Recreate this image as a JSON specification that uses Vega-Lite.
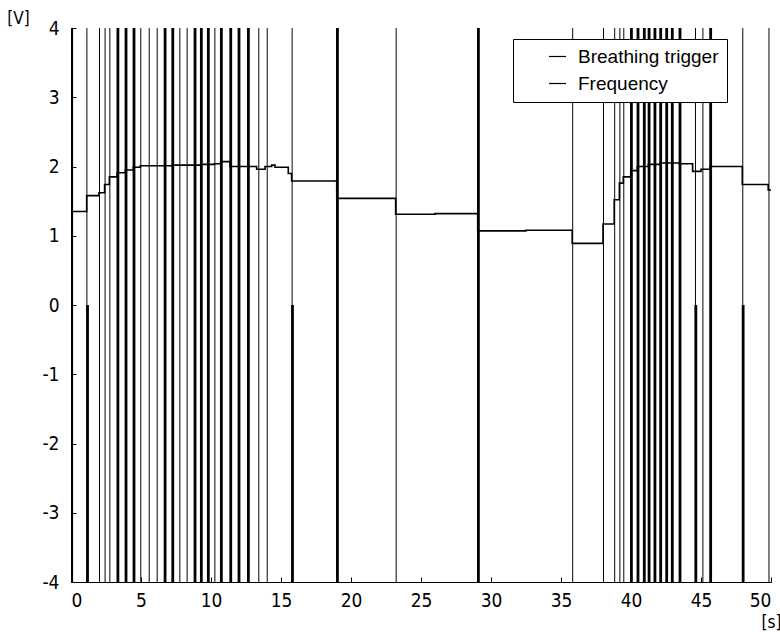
{
  "$schema": "https://vega.github.io/schema/vega-lite/v6.json",
  "width": 700,
  "height": 554,
  "autosize": "none",
  "padding": {"left": 71, "top": 28, "right": 9, "bottom": 50},
  "background": "white",
  "config": {
    "view": {"stroke": null},
    "font": "Liberation Sans Narrow, DejaVu Sans Condensed, Liberation Sans, sans-serif",
    "axis": {
      "grid": false,
      "domainColor": "black",
      "domainWidth": 1,
      "tickColor": "black",
      "tickSize": -5,
      "labelColor": "black",
      "labelFontSize": 19,
      "labelFont": "Liberation Sans Narrow, DejaVu Sans Condensed, sans-serif",
      "titleFont": "Liberation Sans Narrow, DejaVu Sans Condensed, sans-serif",
      "titleFontWeight": "normal",
      "titleFontSize": 17,
      "titleColor": "black"
    }
  },
  "datasets": {
    "triggers": [
      {"t0": 0.0, "t1": 0.15, "lo": -4, "hi": 4},
      {"t0": 1.1, "t1": 1.17, "lo": -4, "hi": 4},
      {"t0": 1.08, "t1": 1.28, "lo": -4, "hi": 0},
      {"t0": 2.0, "t1": 2.07, "lo": -4, "hi": 4},
      {"t0": 2.4, "t1": 2.47, "lo": -4, "hi": 4},
      {"t0": 2.74, "t1": 2.81, "lo": -4, "hi": 4},
      {"t0": 3.25, "t1": 3.45, "lo": -4, "hi": 4},
      {"t0": 3.83, "t1": 4.03, "lo": -4, "hi": 4},
      {"t0": 4.4, "t1": 4.6, "lo": -4, "hi": 4},
      {"t0": 4.95, "t1": 5.02, "lo": -4, "hi": 4},
      {"t0": 5.55, "t1": 5.62, "lo": -4, "hi": 4},
      {"t0": 6.12, "t1": 6.19, "lo": -4, "hi": 4},
      {"t0": 6.62, "t1": 6.82, "lo": -4, "hi": 4},
      {"t0": 7.17, "t1": 7.37, "lo": -4, "hi": 4},
      {"t0": 7.74, "t1": 7.81, "lo": -4, "hi": 4},
      {"t0": 8.26, "t1": 8.33, "lo": -4, "hi": 4},
      {"t0": 8.76, "t1": 8.96, "lo": -4, "hi": 4},
      {"t0": 9.21, "t1": 9.41, "lo": -4, "hi": 4},
      {"t0": 9.71, "t1": 9.91, "lo": -4, "hi": 4},
      {"t0": 10.24, "t1": 10.31, "lo": -4, "hi": 4},
      {"t0": 10.64, "t1": 10.84, "lo": -4, "hi": 4},
      {"t0": 11.31, "t1": 11.51, "lo": -4, "hi": 4},
      {"t0": 11.9, "t1": 12.1, "lo": -4, "hi": 4},
      {"t0": 12.57, "t1": 12.77, "lo": -4, "hi": 4},
      {"t0": 13.38, "t1": 13.45, "lo": -4, "hi": 4},
      {"t0": 13.98, "t1": 14.05, "lo": -4, "hi": 4},
      {"t0": 15.76, "t1": 15.83, "lo": -4, "hi": 4},
      {"t0": 15.72, "t1": 15.92, "lo": -4, "hi": 0},
      {"t0": 18.93, "t1": 19.13, "lo": -4, "hi": 4},
      {"t0": 23.19, "t1": 23.26, "lo": -4, "hi": 4},
      {"t0": 29.0, "t1": 29.2, "lo": -4, "hi": 4},
      {"t0": 35.8, "t1": 35.87, "lo": -4, "hi": 4},
      {"t0": 38.0, "t1": 38.07, "lo": -4, "hi": 4},
      {"t0": 38.8, "t1": 38.87, "lo": -4, "hi": 4},
      {"t0": 39.17, "t1": 39.24, "lo": -4, "hi": 4},
      {"t0": 39.45, "t1": 39.52, "lo": -4, "hi": 4},
      {"t0": 39.93, "t1": 40.13, "lo": -4, "hi": 4},
      {"t0": 40.4, "t1": 40.6, "lo": -4, "hi": 4},
      {"t0": 40.85, "t1": 41.05, "lo": -4, "hi": 4},
      {"t0": 41.19, "t1": 41.39, "lo": -4, "hi": 4},
      {"t0": 41.61, "t1": 41.81, "lo": -4, "hi": 4},
      {"t0": 42.02, "t1": 42.22, "lo": -4, "hi": 4},
      {"t0": 42.45, "t1": 42.65, "lo": -4, "hi": 4},
      {"t0": 42.85, "t1": 43.05, "lo": -4, "hi": 4},
      {"t0": 43.4, "t1": 43.6, "lo": -4, "hi": 4},
      {"t0": 44.57, "t1": 44.64, "lo": -4, "hi": 4},
      {"t0": 44.53, "t1": 44.73, "lo": -4, "hi": 0},
      {"t0": 45.1, "t1": 45.17, "lo": -4, "hi": 4},
      {"t0": 45.59, "t1": 45.79, "lo": -4, "hi": 4},
      {"t0": 47.95, "t1": 48.02, "lo": -4, "hi": 4},
      {"t0": 47.91, "t1": 48.11, "lo": -4, "hi": 0},
      {"t0": 49.82, "t1": 49.89, "lo": -4, "hi": 4}
    ],
    "freq": [
      {"t": 0.0, "f": 1.35},
      {"t": 1.12, "f": 1.58},
      {"t": 2.0, "f": 1.62},
      {"t": 2.4, "f": 1.74},
      {"t": 2.74, "f": 1.85},
      {"t": 3.3, "f": 1.91},
      {"t": 3.88, "f": 1.95},
      {"t": 4.45, "f": 1.99},
      {"t": 4.95, "f": 2.01},
      {"t": 7.22, "f": 2.02},
      {"t": 9.26, "f": 2.03},
      {"t": 10.24, "f": 2.04},
      {"t": 10.69, "f": 2.07},
      {"t": 11.36, "f": 2.0},
      {"t": 13.26, "f": 1.96},
      {"t": 13.86, "f": 2.0},
      {"t": 14.33, "f": 2.02},
      {"t": 14.57, "f": 1.99},
      {"t": 15.52, "f": 1.9},
      {"t": 15.76, "f": 1.79},
      {"t": 18.98, "f": 1.54},
      {"t": 23.19, "f": 1.31},
      {"t": 26.0, "f": 1.32},
      {"t": 29.05, "f": 1.07},
      {"t": 32.5, "f": 1.08},
      {"t": 35.8, "f": 0.89},
      {"t": 38.0, "f": 1.17},
      {"t": 38.8, "f": 1.52},
      {"t": 39.17, "f": 1.76},
      {"t": 39.45, "f": 1.85},
      {"t": 39.98, "f": 1.94},
      {"t": 40.45, "f": 2.0},
      {"t": 41.24, "f": 2.03},
      {"t": 42.07, "f": 2.05},
      {"t": 43.45, "f": 2.04},
      {"t": 44.4, "f": 1.93},
      {"t": 45.0, "f": 1.96},
      {"t": 45.64, "f": 2.0},
      {"t": 47.95, "f": 1.74},
      {"t": 49.8, "f": 1.66},
      {"t": 50.0, "f": 1.66}
    ]
  },
  "layer": [
    {
      "data": {"name": "triggers"},
      "mark": {"type": "rect", "stroke": null},
      "encoding": {
        "x": {
          "field": "t0", "type": "quantitative",
          "scale": {"domain": [0, 50], "nice": false, "zero": false},
          "axis": {
            "values": [0, 5, 10, 15, 20, 25, 30, 35, 40, 45, 50],
            "labelExpr": "'' + datum.value",
            "labelPadding": 14,
            "title": "[s]",
            "titleX": 700, "titleY": 40,
            "titleAlign": "center", "titleBaseline": "middle"
          }
        },
        "x2": {"field": "t1"},
        "y": {
          "field": "lo", "type": "quantitative",
          "scale": {"domain": [-4, 4], "nice": false},
          "axis": {
            "values": [-4, -3, -2, -1, 0, 1, 2, 3, 4],
            "labelExpr": "'' + datum.value",
            "labelPadding": 17,
            "title": "[V]",
            "titleAngle": 0,
            "titleX": -53, "titleY": -10,
            "titleAlign": "center", "titleBaseline": "middle"
          }
        },
        "y2": {"field": "hi"},
        "color": {
          "datum": "Breathing trigger", "type": "nominal",
          "scale": {"domain": ["Breathing trigger", "Frequency"], "range": ["black", "black"]},
          "legend": {
            "orient": "none",
            "legendX": 442,
            "legendY": 11,
            "title": null,
            "symbolType": "stroke",
            "symbolSize": 289,
            "symbolStrokeWidth": 1.2,
            "symbolStrokeColor": "black",
            "symbolOffset": 27,
            "labelOffset": 11,
            "labelFontSize": 19,
            "labelFont": "Liberation Sans, Arial, sans-serif",
            "labelColor": "black",
            "rowPadding": 7,
            "padding": 8,
            "strokeColor": "black",
            "fillColor": "white",
            "encode": {"symbols": {"update": {"stroke": {"value": "black"}, "strokeWidth": {"value": 1.2}}}}
          }
        }
      }
    },
    {
      "data": {"name": "freq"},
      "mark": {"type": "line", "interpolate": "step-after", "strokeWidth": 1.6},
      "encoding": {
        "x": {"field": "t", "type": "quantitative"},
        "y": {"field": "f", "type": "quantitative"},
        "color": {"datum": "Frequency", "type": "nominal"}
      }
    }
  ]
}
